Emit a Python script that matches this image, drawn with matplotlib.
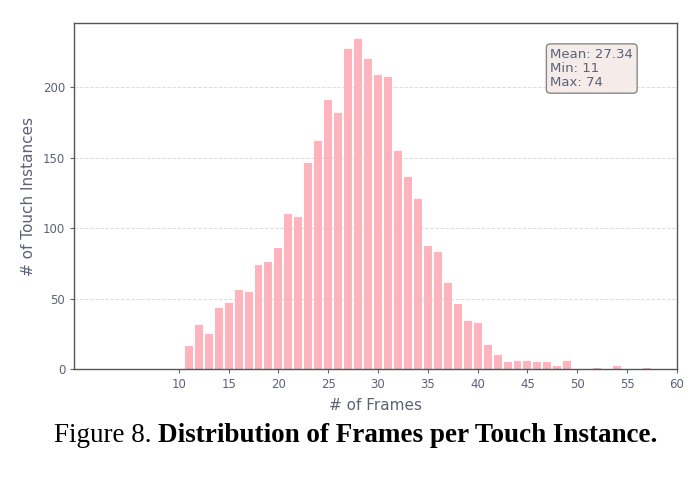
import matplotlib.pyplot as plt
import numpy as np

# frame counts per touch instance (bins 11..57)
frames = list(range(11, 58))
counts = [16, 31, 25, 43, 47, 56, 55, 74, 76, 86,
          110, 108, 146, 162, 191, 182, 227, 234, 220, 209,
          207, 155, 136, 121, 87, 83, 61, 46, 34, 33,
          17, 10, 5, 6, 6, 5, 5, 2, 6, 0,
          0, 1, 0, 2, 0, 0, 1]
stats_text = "Mean: 27.34\nMin: 11\nMax: 74"
x_ticks = [10, 15, 20, 25, 30, 35, 40, 45, 50, 55, 60]

text_col = "#5d6275"

fig = plt.figure(figsize=(7, 4.93), dpi=100)
ax = fig.add_axes([0.106, 0.2515, 0.861, 0.702])

ax.bar(frames, counts, width=0.8, color="#ffb3bd", edgecolor="none", zorder=2)
ax.set_xlim(-0.5, 60)
ax.set_ylim(0, max(counts) * 1.05)
ax.set_xticks(x_ticks)
ax.set_yticks([0, 50, 100, 150, 200])
ax.yaxis.grid(True, linestyle="--", color="#dddddd", linewidth=0.7, zorder=0)
ax.tick_params(labelsize=8.5, colors=text_col, length=3, width=0.8)
for s in ax.spines.values():
    s.set_color("#555555")
    s.set_linewidth(1.0)

ax.set_xlabel("# of Frames", fontsize=11, color=text_col, labelpad=5)
ax.set_ylabel("# of Touch Instances", fontsize=11, color=text_col, labelpad=5)

ax.text(0.790, 0.928, stats_text, transform=ax.transAxes, ha="left", va="top",
        fontsize=9.5, color=text_col, linespacing=1.12,
        bbox=dict(boxstyle="round,pad=0.3", facecolor="#f5ecea", edgecolor="#888888", linewidth=1))

fig.text(0.226, 0.116, "Figure 8. ", ha="right", va="center", fontsize=19.5,
         family="Liberation Serif")
fig.text(0.226, 0.116, "Distribution of Frames per Touch Instance.", ha="left", va="center",
         fontsize=19.5, family="Liberation Serif", fontweight="bold")

fig.savefig("out.png", dpi=100)
